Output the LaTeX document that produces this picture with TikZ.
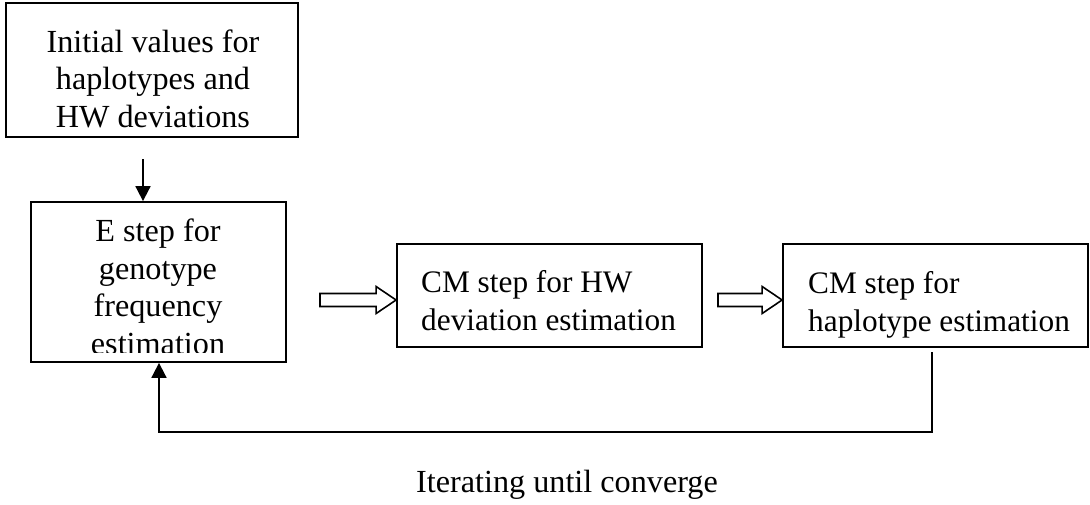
\documentclass[tikz,border=0pt]{standalone}
\usepackage{fontspec}
\setmainfont{Liberation Serif}
\usetikzlibrary{arrows.meta,calc}
\begin{document}
\begin{tikzpicture}[x=1pt,y=-1pt,
  box/.style={draw,line width=1.8pt,inner sep=0pt},
  txt/.style={font=\fontsize{32.2}{37}\selectfont, inner sep=0pt},
  smalltxt/.style={font=\fontsize{31.3}{37}\selectfont, inner sep=0pt},
  conn/.style={line width=1.8pt},
  tipped/.style={-{Triangle[width=15pt,length=15pt]}},
  hollow/.style={line width=1.6pt, fill=white, line join=miter}]
\useasboundingbox (0,0) rectangle (1090,504);
% boxes
\node[box, minimum width=292pt, minimum height=134pt] (init) at (152,70) {};
\node[box, minimum width=255pt, minimum height=160pt] (estep) at (158.5,282) {};
\node[box, minimum width=305pt, minimum height=103pt] (cmhw) at (549.5,295.5) {};
\node[box, minimum width=305pt, minimum height=103pt] (cmhap) at (935.5,295.5) {};
% texts (anchor base = baseline of last line)
\node[txt, align=center, anchor=base] (initT) at (153,127) {Initial values for\\[0.5pt]haplotypes and\\[0.5pt]HW deviations};
\begin{scope}
\clip (estep.north west) rectangle ($(estep.south east)+(0,-10)$);
\node[txt, align=center, anchor=base] (estepT) at (158,354) {E step for\\[0.5pt]genotype\\[0.5pt]frequency\\[0.5pt]estimation};
\end{scope}
\node[smalltxt, align=left, anchor=base west] (cmhwT) at (421,330) {CM step for HW\\[0.5pt]deviation estimation};
\node[smalltxt, align=left, anchor=base west] (cmhapT) at (808,331) {CM step for\\[0.5pt]haplotype estimation};
\node[txt, anchor=base] (iter) at (567,492) {Iterating until converge};
% down arrow
\coordinate (d0) at (143,159);
\draw[conn,tipped] (d0) -- (d0 |- estep.north);
% hollow arrows
\newcommand\hollowarrow[2]{%
  \draw[hollow] ($(#1)+(0,-6.5)$) -- ($(#2)+(-20,-6.5)$) -- ($(#2)+(-20,-13.5)$) -- (#2) -- ($(#2)+(-20,13.5)$) -- ($(#2)+(-20,6.5)$) -- ($(#1)+(0,6.5)$) -- cycle;}
\coordinate (h1s) at (320,300);
\coordinate (h1e) at (h1s -| cmhw.west);
\coordinate (h2s) at (718,300);
\coordinate (h2e) at (h2s -| cmhap.west);
\hollowarrow{h1s}{h1e}
\hollowarrow{h2s}{h2e}
% loop
\coordinate (l0) at (932,352);
\coordinate (l1) at (932,432);
\coordinate (l2) at (159,432);
\draw[conn,tipped] (l0) -- (l1) -- (l2) -- (l2 |- estep.south);
\end{tikzpicture}
\end{document}
